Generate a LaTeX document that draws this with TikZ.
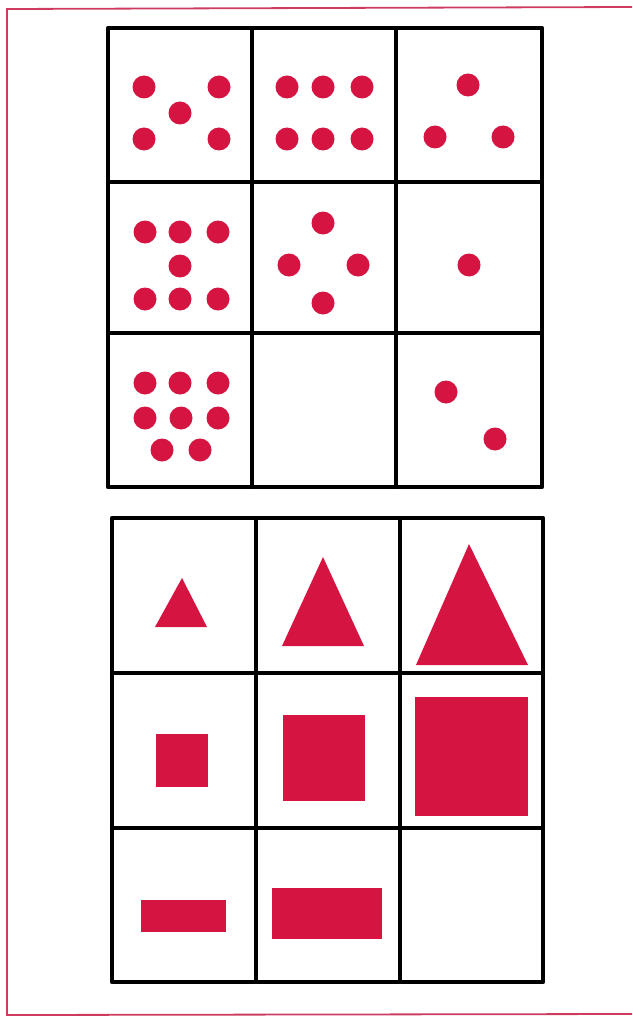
\documentclass[tikz,border=0pt]{standalone}
\usepackage{tikz}

\definecolor{dotred}{RGB}{214,20,66}
\definecolor{framered}{RGB}{205,60,95}

\begin{document}
\begin{tikzpicture}[x=1pt, y=-1pt,
    grid/.style={line width=4.2pt, line cap=round, line join=round},
    dot/.style={fill=dotred},
    solid shape/.style={fill=dotred}]
    \useasboundingbox (0,0) rectangle (632,1019);

    % Frame (open on the right)
    \draw[framered, line width=1.8pt] (632,7) -- (7,9) -- (7,1015) -- (632,1014);

    % Upper grid
    \draw[grid] (108,28) rectangle (542,487);
    \draw[grid] (252,28) -- (252,487);
    \draw[grid] (396,28) -- (396,487);
    \draw[grid] (108,182) -- (542,182);
    \draw[grid] (108,333) -- (542,333);

    % Lower grid
    \draw[grid] (112,518) rectangle (543,982);
    \draw[grid] (256,518) -- (256,982);
    \draw[grid] (400,518) -- (400,982);
    \draw[grid] (112,673) -- (543,673);
    \draw[grid] (112,828) -- (543,828);

    % Dots, row 1
    \fill[dot] (144,87) circle (11.5pt);
    \fill[dot] (219,87) circle (11.5pt);
    \fill[dot] (180,113) circle (11.5pt);
    \fill[dot] (144,139) circle (11.5pt);
    \fill[dot] (219,139) circle (11.5pt);

    \fill[dot] (287,87) circle (11.5pt);
    \fill[dot] (323,87) circle (11.5pt);
    \fill[dot] (362,87) circle (11.5pt);
    \fill[dot] (287,139) circle (11.5pt);
    \fill[dot] (323,139) circle (11.5pt);
    \fill[dot] (362,139) circle (11.5pt);

    \fill[dot] (468,85) circle (11.5pt);
    \fill[dot] (435,137) circle (11.5pt);
    \fill[dot] (503,137) circle (11.5pt);

    % Dots, row 2
    \fill[dot] (145,232) circle (11.5pt);
    \fill[dot] (180,232) circle (11.5pt);
    \fill[dot] (218,232) circle (11.5pt);
    \fill[dot] (180,266) circle (11.5pt);
    \fill[dot] (145,299) circle (11.5pt);
    \fill[dot] (180,299) circle (11.5pt);
    \fill[dot] (218,299) circle (11.5pt);

    \fill[dot] (323,223) circle (11.5pt);
    \fill[dot] (289,265) circle (11.5pt);
    \fill[dot] (358,265) circle (11.5pt);
    \fill[dot] (323,303) circle (11.5pt);

    \fill[dot] (469,265) circle (11.5pt);

    % Dots, row 3
    \fill[dot] (145,383) circle (11.5pt);
    \fill[dot] (180,383) circle (11.5pt);
    \fill[dot] (218,383) circle (11.5pt);
    \fill[dot] (145,418) circle (11.5pt);
    \fill[dot] (181,418) circle (11.5pt);
    \fill[dot] (218,418) circle (11.5pt);
    \fill[dot] (162,450) circle (11.5pt);
    \fill[dot] (200,450) circle (11.5pt);

    \fill[dot] (446,392) circle (11.5pt);
    \fill[dot] (495,439) circle (11.5pt);

    % Triangles
    \fill[solid shape] (182,578) -- (207,627) -- (155,627) -- cycle;
    \fill[solid shape] (323,557) -- (364,646) -- (282,646) -- cycle;
    \fill[solid shape] (469,544) -- (528,665) -- (416,665) -- cycle;

    % Squares
    \fill[solid shape] (156,734) rectangle (208,787);
    \fill[solid shape] (283,715) rectangle (365,801);
    \fill[solid shape] (415,697) rectangle (528,816);

    % Bars
    \fill[solid shape] (141,900) rectangle (226,932);
    \fill[solid shape] (272,888) rectangle (382,939);
\end{tikzpicture}
\end{document}
